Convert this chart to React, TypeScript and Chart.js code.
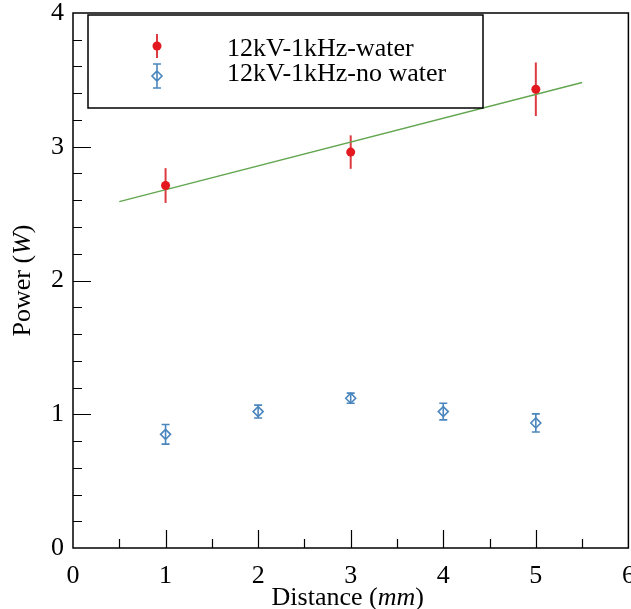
import React, { useEffect, useRef } from 'react';
import { Chart, registerables } from 'chart.js';

Chart.register(...registerables);

// ---- data ----
const waterDistance = [1, 3, 5];
const waterPower = [2.71, 2.96, 3.43];
const waterError = [0.13, 0.125, 0.2];

const noWaterDistance = [1, 2, 3, 4, 5];
const noWaterPower = [0.85, 1.02, 1.12, 1.02, 0.935];
const noWaterError = [0.073, 0.048, 0.038, 0.062, 0.068];

const fitDistance = [0.5, 5.5];
const fitPower = [2.59, 3.48];

const xTickValues = [0, 1, 2, 3, 4, 5, 6];
const yTickValues = [0, 1, 2, 3, 4];
const xMinorStep = 0.5;
const yMinorStep = 0.2;

const seriesLabels = ['12kV-1kHz-water', '12kV-1kHz-no water'];
const xTitleParts = [
  { text: 'Distance (', italic: false },
  { text: 'mm', italic: true },
  { text: ')', italic: false },
];
const yTitleParts = [
  { text: 'Power (', italic: false },
  { text: 'W', italic: true },
  { text: ')', italic: false },
];

// ---- styles ----
const FONT = '"Liberation Serif", "Times New Roman", serif';
const RED = '#e3191f';
const RED_BAR = '#dc3a40';
const BLUE = '#4a86bd';
const GREEN = '#62a64f';

function drawMixed(ctx: CanvasRenderingContext2D, parts: { text: string; italic: boolean }[], size: number) {
  const fonts = parts.map((p) => `${p.italic ? 'italic ' : ''}${size}px ${FONT}`);
  let total = 0;
  const widths = parts.map((p, i) => {
    ctx.font = fonts[i];
    const w = ctx.measureText(p.text).width;
    total += w;
    return w;
  });
  let x = -total / 2;
  parts.forEach((p, i) => {
    ctx.font = fonts[i];
    ctx.fillText(p.text, x, 0);
    x += widths[i];
  });
}

const errorBarPlugin = {
  id: 'errorBars',
  beforeDatasetsDraw(chart: any) {
    const { ctx } = chart;
    const xs = chart.scales.x;
    const ys = chart.scales.y;
    ctx.save();
    ctx.strokeStyle = RED_BAR;
    ctx.lineWidth = 2;
    waterDistance.forEach((d, i) => {
      const px = xs.getPixelForValue(d);
      ctx.beginPath();
      ctx.moveTo(px, ys.getPixelForValue(waterPower[i] - waterError[i]));
      ctx.lineTo(px, ys.getPixelForValue(waterPower[i] + waterError[i]));
      ctx.stroke();
    });
    ctx.strokeStyle = BLUE;
    ctx.lineWidth = 1.6;
    noWaterDistance.forEach((d, i) => {
      const px = xs.getPixelForValue(d);
      const lo = ys.getPixelForValue(noWaterPower[i] - noWaterError[i]);
      const hi = ys.getPixelForValue(noWaterPower[i] + noWaterError[i]);
      ctx.beginPath();
      ctx.moveTo(px, lo);
      ctx.lineTo(px, hi);
      ctx.moveTo(px - 4, lo);
      ctx.lineTo(px + 4, lo);
      ctx.moveTo(px - 4, hi);
      ctx.lineTo(px + 4, hi);
      ctx.stroke();
    });
    ctx.restore();
  },
};

const framePlugin = {
  id: 'frameTicks',
  afterDraw(chart: any) {
    const { ctx, chartArea: a } = chart;
    const xs = chart.scales.x;
    const ys = chart.scales.y;
    ctx.save();
    ctx.strokeStyle = '#000';
    ctx.lineWidth = 1.5;
    ctx.strokeRect(a.left, a.top, a.right - a.left, a.bottom - a.top);
    ctx.lineWidth = 1.2;
    ctx.beginPath();
    const xMin = xTickValues[0];
    const xMax = xTickValues[xTickValues.length - 1];
    for (let k = 1; xMin + k * xMinorStep < xMax - 1e-6; k++) {
      const v = xMin + k * xMinorStep;
      const major = Math.abs(v - Math.round(v)) < 1e-6;
      const px = Math.round(xs.getPixelForValue(v)) + 0.5;
      ctx.moveTo(px, a.bottom);
      ctx.lineTo(px, a.bottom - (major ? 18 : 9));
    }
    const yMin = yTickValues[0];
    const yMax = yTickValues[yTickValues.length - 1];
    for (let k = 1; yMin + k * yMinorStep < yMax - 1e-6; k++) {
      const v = yMin + k * yMinorStep;
      const major = Math.abs(v - Math.round(v)) < 1e-6;
      const py = Math.round(ys.getPixelForValue(v)) + 0.5;
      ctx.moveTo(a.left, py);
      ctx.lineTo(a.left + (major ? 18 : 9), py);
    }
    ctx.stroke();

    // axis titles
    ctx.fillStyle = '#000';
    ctx.textBaseline = 'alphabetic';
    ctx.save();
    ctx.translate((a.left + a.right) / 2 - 3, 605);
    drawMixed(ctx, xTitleParts, 26);
    ctx.restore();
    ctx.save();
    ctx.translate(30, (a.top + a.bottom) / 2);
    ctx.rotate(-Math.PI / 2);
    drawMixed(ctx, yTitleParts, 26);
    ctx.restore();

    // legend
    const lx = a.left + 15;
    const ly = a.top + 2;
    const lw = 395;
    const lh = 93;
    ctx.fillStyle = '#fff';
    ctx.fillRect(lx, ly, lw, lh);
    ctx.strokeStyle = '#000';
    ctx.lineWidth = 1.5;
    ctx.strokeRect(lx, ly, lw, lh);
    const mx = lx + 69;
    const y1 = ly + 31;
    const y2 = ly + 61;
    ctx.strokeStyle = RED_BAR;
    ctx.lineWidth = 2;
    ctx.beginPath();
    ctx.moveTo(mx, y1 - 12);
    ctx.lineTo(mx, y1 + 12);
    ctx.stroke();
    ctx.fillStyle = RED;
    ctx.beginPath();
    ctx.arc(mx, y1, 4.5, 0, Math.PI * 2);
    ctx.fill();
    ctx.strokeStyle = BLUE;
    ctx.lineWidth = 1.6;
    ctx.beginPath();
    ctx.moveTo(mx, y2 - 12);
    ctx.lineTo(mx, y2 + 12);
    ctx.moveTo(mx - 4, y2 - 12);
    ctx.lineTo(mx + 4, y2 - 12);
    ctx.moveTo(mx - 4, y2 + 12);
    ctx.lineTo(mx + 4, y2 + 12);
    ctx.moveTo(mx, y2 - 5);
    ctx.lineTo(mx + 5, y2);
    ctx.lineTo(mx, y2 + 5);
    ctx.lineTo(mx - 5, y2);
    ctx.closePath();
    ctx.stroke();
    ctx.fillStyle = '#000';
    ctx.font = `26px ${FONT}`;
    ctx.textAlign = 'left';
    ctx.fillText(seriesLabels[0], lx + 139, ly + 41);
    ctx.fillText(seriesLabels[1], lx + 139, ly + 66);
    ctx.restore();
  },
};

export default function App() {
  const ref = useRef<HTMLCanvasElement>(null);
  useEffect(() => {
    const chart = new Chart(ref.current as HTMLCanvasElement, {
      type: 'scatter',
      data: {
        datasets: [
          {
            label: seriesLabels[0],
            data: waterDistance.map((d, i) => ({ x: d, y: waterPower[i] })),
            pointStyle: 'circle',
            pointRadius: 4.5,
            pointBackgroundColor: RED,
            pointBorderWidth: 0,
            showLine: false,
          },
          {
            label: seriesLabels[1],
            data: noWaterDistance.map((d, i) => ({ x: d, y: noWaterPower[i] })),
            pointStyle: 'rectRot',
            pointRadius: 5,
            pointBackgroundColor: 'rgba(0,0,0,0)',
            pointBorderColor: BLUE,
            pointBorderWidth: 1.6,
            showLine: false,
          },
          {
            label: 'fit',
            type: 'line',
            data: fitDistance.map((d, i) => ({ x: d, y: fitPower[i] })),
            borderColor: GREEN,
            borderWidth: 1.4,
            pointRadius: 0,
            fill: false,
          } as any,
        ],
      },
      options: {
        responsive: false,
        animation: false,
        devicePixelRatio: 1,
        layout: { padding: { top: 13, right: 2, left: 0, bottom: 0 } },
        plugins: { legend: { display: false }, tooltip: { enabled: false } },
        events: [],
        scales: {
          x: {
            type: 'linear',
            min: xTickValues[0],
            max: xTickValues[xTickValues.length - 1],
            afterBuildTicks: (s: any) => {
              s.ticks = xTickValues.map((v) => ({ value: v }));
            },
            afterFit: (s: any) => {
              s.height = 61;
              s.paddingLeft = 0;
              s.paddingRight = 0;
            },
            grid: { display: false, drawTicks: false },
            border: { display: false },
            ticks: {
              color: '#000',
              font: { family: FONT, size: 26 },
              padding: 13,
              maxRotation: 0,
              autoSkip: false,
              callback: (v: any) => String(v),
            },
          },
          y: {
            type: 'linear',
            min: yTickValues[0],
            max: yTickValues[yTickValues.length - 1],
            afterBuildTicks: (s: any) => {
              s.ticks = yTickValues.map((v) => ({ value: v }));
            },
            afterFit: (s: any) => {
              s.width = 73;
              s.paddingTop = 0;
              s.paddingBottom = 0;
            },
            grid: { display: false, drawTicks: false },
            border: { display: false },
            ticks: {
              color: '#000',
              font: { family: FONT, size: 26 },
              padding: 9,
              autoSkip: false,
              callback: (v: any) => String(v),
            },
          },
        },
      },
      plugins: [errorBarPlugin, framePlugin],
    });
    return () => chart.destroy();
  }, []);
  return (
    <div style={{ position: 'absolute', left: 0, top: 0, width: 631, height: 609, overflow: 'hidden', background: '#fff' }}>
      <canvas ref={ref} width={635} height={609} style={{ display: 'block', width: 635, height: 609 }} />
    </div>
  );
}
